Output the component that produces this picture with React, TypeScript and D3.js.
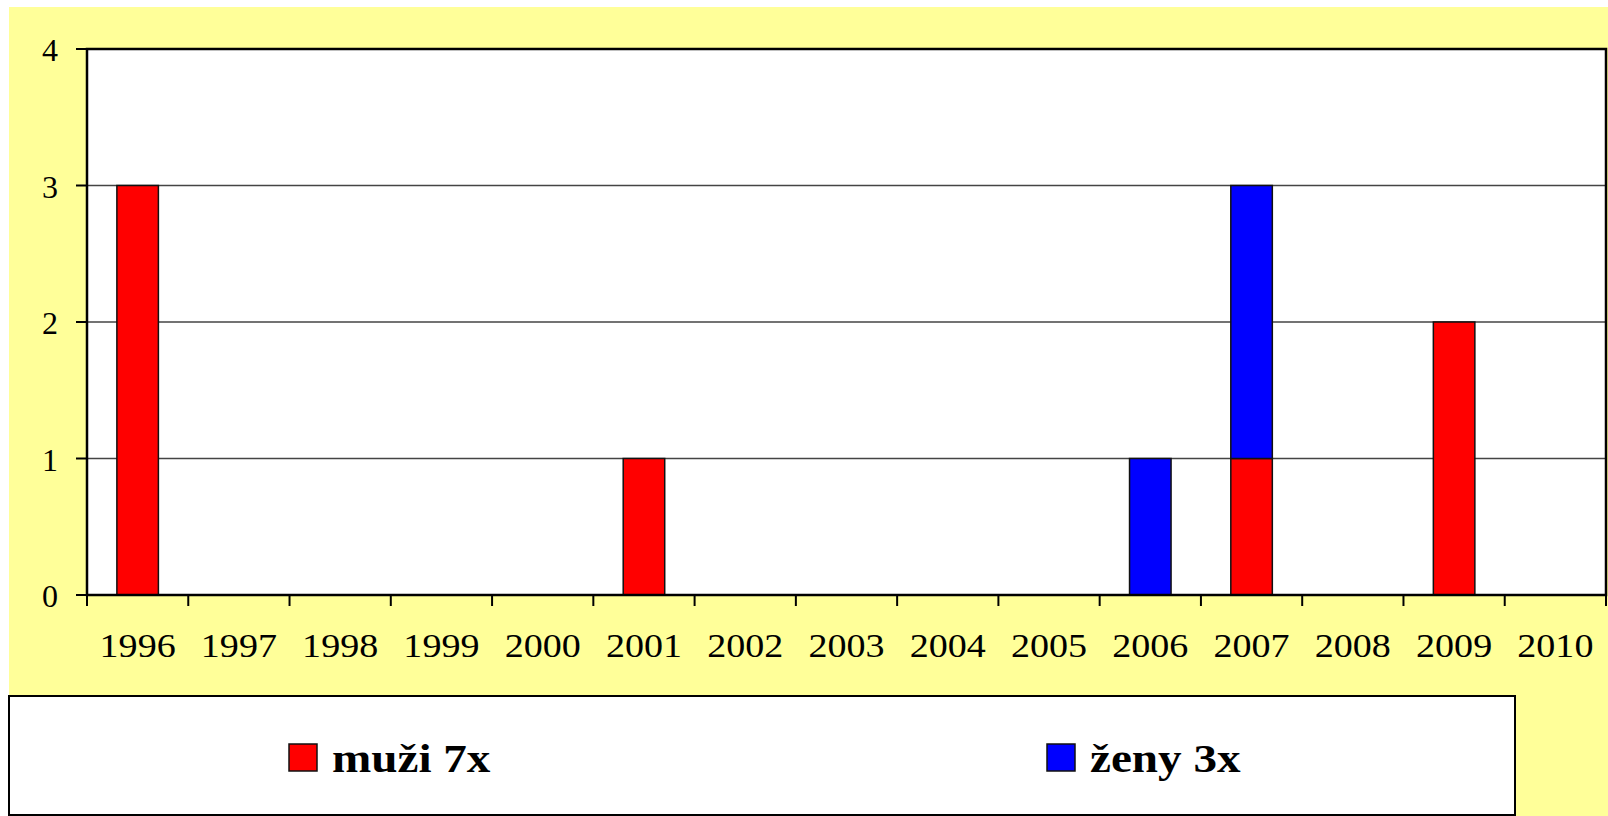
import * as d3 from "d3";

const years = ["1996", "1997", "1998", "1999", "2000", "2001", "2002", "2003", "2004", "2005", "2006", "2007", "2008", "2009", "2010"];
const muzi = [3, 0, 0, 0, 0, 1, 0, 0, 0, 0, 0, 1, 0, 2, 0];
const zeny = [0, 0, 0, 0, 0, 0, 0, 0, 0, 0, 1, 2, 0, 0, 0];
const yTicks = [0, 1, 2, 3, 4];
const seriesNames = ["muži 7x", "ženy 3x"];
const seriesColors = ["#ff0000", "#0000ff"];

const W = 1608;
const H = 816;
const plot = { left: 87, right: 1606, top: 49, bottom: 595 };
const serif = "Times New Roman, Times, Liberation Serif, serif";

export default function App() {
  const x = d3.scaleBand<string>().domain(years).range([plot.left, plot.right]);
  const y = d3.scaleLinear().domain([0, 4]).range([plot.bottom, plot.top]);
  const bw = x.bandwidth() * 0.41;

  const rows = years.map((yr, i) => ({ year: yr, muzi: muzi[i], zeny: zeny[i] }));
  const stacked = d3.stack<any>().keys(["muzi", "zeny"])(rows);

  const boundaries = years.map((yr) => x(yr) as number).concat([plot.right]);

  const legendX = [289, 1047];

  return (
    <svg width={W} height={H} style={{ position: "absolute", left: 0, top: 0 }}>
      <rect x={9} y={7} width={W - 9} height={H - 7} fill="#ffff99" />
      <rect x={plot.left} y={plot.top} width={plot.right - plot.left} height={plot.bottom - plot.top} fill="#ffffff" />

      {yTicks.slice(1, 4).map((t) => (
        <line key={"g" + t} x1={plot.left} x2={plot.right} y1={y(t)} y2={y(t)} stroke="#444" strokeWidth={1.5} />
      ))}

      {stacked.map((s, si) =>
        s.map((d, i) =>
          d[1] - d[0] > 0 ? (
            <rect
              key={si + "-" + i}
              x={(x(years[i]) as number) + (x.bandwidth() - bw) / 2}
              y={y(d[1])}
              width={bw}
              height={y(d[0]) - y(d[1])}
              fill={seriesColors[si]}
              stroke="#111"
              strokeWidth={1.5}
            />
          ) : null
        )
      )}

      <rect x={plot.left} y={plot.top} width={plot.right - plot.left} height={plot.bottom - plot.top} fill="none" stroke="#000" strokeWidth={2.5} />

      {yTicks.map((t) => (
        <g key={"y" + t}>
          <line x1={plot.left - 11} x2={plot.left} y1={y(t)} y2={y(t)} stroke="#000" strokeWidth={2} />
          <text x={58} y={y(t) + 12} textAnchor="end" fontFamily={serif} fontSize={32} fill="#000">
            {t}
          </text>
        </g>
      ))}

      {boundaries.map((bx, i) => (
        <line key={"xt" + i} x1={bx} x2={bx} y1={plot.bottom} y2={plot.bottom + 11} stroke="#000" strokeWidth={2} />
      ))}
      {years.map((yr) => (
        <text
          key={"xl" + yr}
          transform={`translate(${(x(yr) as number) + x.bandwidth() / 2},657) scale(1.12,1)`}
          textAnchor="middle"
          fontFamily={serif}
          fontSize={34}
          fill="#000"
        >
          {yr}
        </text>
      ))}

      <rect x={9} y={696} width={1506} height={119} fill="#ffffff" stroke="#000" strokeWidth={2} />
      {seriesNames.map((name, i) => (
        <g key={"lg" + i}>
          <rect x={legendX[i]} y={744} width={28} height={27} fill={seriesColors[i]} stroke="#111" strokeWidth={1.5} />
          <text
            transform={`translate(${legendX[i] + 43},772) scale(1.15,1)`}
            fontFamily={serif}
            fontWeight="bold"
            fontSize={41}
            fill="#000"
          >
            {name}
          </text>
        </g>
      ))}
    </svg>
  );
}
